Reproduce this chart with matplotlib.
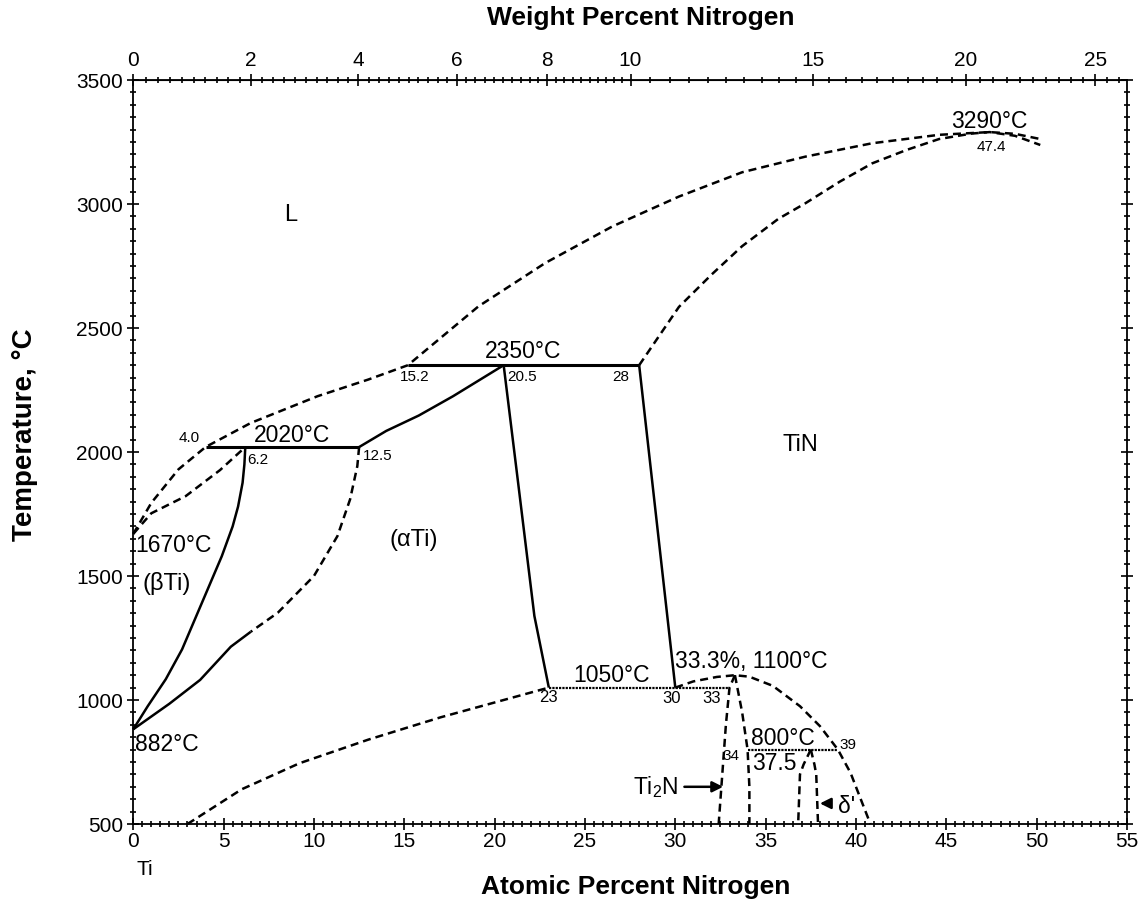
import numpy as np
import matplotlib.pyplot as plt
from matplotlib.ticker import MultipleLocator, FixedLocator

plt.rcParams['font.family'] = ['Liberation Sans', 'DejaVu Sans']
plt.rcParams['mathtext.fontset'] = 'custom'
plt.rcParams['mathtext.rm'] = 'Liberation Sans'
plt.rcParams['mathtext.it'] = 'Liberation Sans:italic'

# molar masses for the wt% <-> at% conversion of the top axis
M_N, M_TI = 14.007, 47.867

# liquidus: Ti melting point -> 4.0/2020 -> 15.2/2350 -> congruent max 47.4/3290
liq_x = [0, 1.0, 2.5, 4.0, 6.5, 10.2, 13.0, 15.2, 19.1, 22.8, 26.5, 30.2, 33.7,
         37.2, 40.9, 44.6, 47.4, 48.8, 50.2]
liq_T = [1670, 1795, 1930, 2020, 2117, 2225, 2292, 2350, 2587, 2762, 2909, 3030, 3128,
         3191, 3245, 3279, 3290, 3283, 3262]

# TiN solidus
tin_sol_x = [28, 30.2, 32.0, 33.7, 35.7, 37.2, 39.1, 40.9, 42.8, 44.6, 46.4, 47.4, 48.8, 50.2]
tin_sol_T = [2350, 2585, 2715, 2830, 2940, 3003, 3090, 3164, 3218, 3262, 3284, 3290, 3275, 3238]

# (bTi) solidus
bsol_x = [0, 1.0, 2.9, 4.8, 6.2]
bsol_T = [1670, 1753, 1822, 1927, 2020]

# (bTi) / (aTi)+(bTi) boundary
bta_x = [6.2, 6.15, 6.05, 5.8, 5.5, 4.9, 3.8, 2.7, 1.8, 0.8, 0]
bta_T = [2020, 1950, 1876, 1780, 1700, 1580, 1392, 1204, 1084, 975, 882]

# (aTi) / (aTi)+(bTi) boundary, dashed upper part and solid lower part
atb_dash_x = [12.5, 12.4, 12.0, 11.3, 10.0, 8.0, 6.5]
atb_dash_T = [2020, 1943, 1809, 1661, 1500, 1352, 1275]
atb_solid_x = [6.5, 5.4, 3.7, 2.0, 0]
atb_solid_T = [1275, 1215, 1081, 985, 882]

# peritectic liquidus of (aTi) between 12.5 and 20.5
aper_x = [12.5, 14.0, 15.8, 17.7, 20.5]
aper_T = [2020, 2085, 2147, 2225, 2350]

# (aTi) solvus, high temperature (solid) and low temperature (dashed)
asolv_x = [20.5, 21.3, 22.2, 23.0]
asolv_T = [2350, 1876, 1339, 1050]
alow_x = [3.0, 6.0, 9.2, 13.0, 17.0, 20.5, 23.0]
alow_T = [500, 640, 745, 840, 930, 1000, 1050]

# TiN low-nitrogen boundary
tin_x = [28, 29.0, 30]
tin_T = [2350, 1700, 1050]

# Ti2N / delta' region
dome_x = [30, 31, 32.3, 33.3, 34.1, 35.4, 36.9, 38.0, 39.0, 39.7, 40.2, 40.8]
dome_T = [1050, 1075, 1093, 1100, 1094, 1057, 975, 895, 800, 706, 612, 500]
ti2n_left_x = [33.3, 33.0, 32.8, 32.6, 32.4]
ti2n_left_T = [1100, 1050, 900, 700, 500]
ti2n_right_x = [33.3, 33.7, 34.0, 34.1, 34.1]
ti2n_right_T = [1100, 950, 800, 650, 500]
dl_left_x = [37.5, 37.1, 36.9, 36.8]
dl_left_T = [800, 740, 700, 500]
dl_right_x = [37.5, 37.7, 37.8, 37.9]
dl_right_T = [800, 740, 700, 500]

# invariant horizontals: (x_start, x_end, temperature)
iso_solid = [(4.0, 12.5, 2020), (15.2, 28.0, 2350)]
iso_dotted = [(23.0, 33.0, 1050), (34.0, 39.0, 800)]

wt_ticks = [0, 2, 4, 6, 8, 10, 15, 20, 25]


def at_to_wt(a):
    a = np.asarray(a, dtype=float)
    return 100 * a * M_N / (a * M_N + (100 - a) * M_TI)


def wt_to_at(w):
    w = np.asarray(w, dtype=float)
    return 100 * (w / M_N) / (w / M_N + (100 - w) / M_TI)


fig = plt.figure(figsize=(11.43, 9.05), dpi=100)
ax = fig.add_axes([0.1166, 0.0895, 0.8694, 0.8221])
ax.set_xlim(0, 55)
ax.set_ylim(500, 3500)

DASH = (0, (3.2, 2.0))
LW = 1.8


def solid(x, T, lw=LW):
    ax.plot(x, T, color='k', lw=lw, solid_capstyle='butt', clip_on=False)


def dashed(x, T, lw=LW):
    ax.plot(x, T, color='k', lw=lw, ls=DASH, clip_on=False)


dashed(liq_x, liq_T)
dashed(tin_sol_x, tin_sol_T)
dashed(bsol_x, bsol_T)
solid(bta_x, bta_T)
dashed(atb_dash_x, atb_dash_T)
solid(atb_solid_x, atb_solid_T)
solid(aper_x, aper_T)
solid(asolv_x, asolv_T)
dashed(alow_x, alow_T)
solid(tin_x, tin_T)
dashed(dome_x, dome_T)
dashed(ti2n_left_x, ti2n_left_T)
dashed(ti2n_right_x, ti2n_right_T)
dashed(dl_left_x, dl_left_T)
dashed(dl_right_x, dl_right_T)

for x0, x1, t in iso_solid:
    ax.plot([x0, x1], [t, t], color='k', lw=2.2, solid_capstyle='butt')
for x0, x1, t in iso_dotted:
    ax.plot([x0, x1], [t, t], color='k', lw=1.6, ls=(0, (1, 0.5)))

# arrows pointing at Ti2N and delta'
arrow = dict(arrowstyle='-|>', color='k', lw=1.8, mutation_scale=16)
ax.annotate('', xy=(32.8, 650), xytext=(30.35, 650), arrowprops=arrow)
ax.annotate('', xy=(37.85, 583), xytext=(38.75, 583), arrowprops=arrow)

big = 16.5
small = 11
ax.text(8.7, 2956, 'L', fontsize=17, ha='center', va='center')
ax.text(36.9, 2028, 'TiN', fontsize=17, ha='center', va='center')
ax.text(15.5, 1645, '(αTi)', fontsize=17, ha='center', va='center')
ax.text(0.5, 1471, '(βTi)', fontsize=17, ha='left', va='center')
ax.text(0.1, 1625, '1670°C', fontsize=big, ha='left', va='center')
ax.text(0.1, 819, '882°C', fontsize=big, ha='left', va='center')
ax.text(8.8, 2065, '2020°C', fontsize=big, ha='center', va='center')
ax.text(3.7, 2055, '4.0', fontsize=small, ha='right', va='center')
ax.text(6.3, 1968, '6.2', fontsize=small, ha='left', va='center')
ax.text(12.7, 1984, '12.5', fontsize=small, ha='left', va='center')
ax.text(21.6, 2404, '2350°C', fontsize=big, ha='center', va='center')
ax.text(15.6, 2304, '15.2', fontsize=small, ha='center', va='center')
ax.text(20.7, 2304, '20.5', fontsize=small, ha='left', va='center')
ax.text(27.0, 2304, '28', fontsize=small, ha='center', va='center')
ax.text(47.4, 3332, '3290°C', fontsize=big, ha='center', va='center')
ax.text(47.5, 3231, '47.4', fontsize=small, ha='center', va='center')
ax.text(26.45, 1097, '1050°C', fontsize=big, ha='center', va='center')
ax.text(23.0, 1010, '23', fontsize=12, ha='center', va='center')
ax.text(29.8, 1007, '30', fontsize=12, ha='center', va='center')
ax.text(32.0, 1007, '33', fontsize=12, ha='center', va='center')
ax.text(30.0, 1155, '33.3%, 1100°C', fontsize=big, ha='left', va='center')
ax.text(35.95, 846, '800°C', fontsize=big, ha='center', va='center')
ax.text(35.5, 742, '37.5', fontsize=big, ha='center', va='center')
ax.text(33.1, 774, '34', fontsize=small, ha='center', va='center')
ax.text(39.1, 819, '39', fontsize=small, ha='left', va='center')
ax.text(30.2, 650, 'Ti$_2$N', fontsize=big, ha='right', va='center')
ax.text(39.0, 570, "δ'", fontsize=big, ha='left', va='center')
ax.text(0.2, 315, 'Ti', fontsize=15, ha='left', va='center', clip_on=False)

# axes, ticks and labels
ax.xaxis.set_major_locator(MultipleLocator(5))
ax.xaxis.set_minor_locator(MultipleLocator(0.5))
ax.yaxis.set_major_locator(MultipleLocator(500))
ax.yaxis.set_minor_locator(MultipleLocator(50))
ax.tick_params(which='both', direction='inout', right=True, top=False, labelsize=15,
               width=1.2, colors='k')
ax.tick_params(which='major', length=8)
ax.tick_params(which='minor', length=4)
ax.tick_params(axis='x', pad=2)
for s in ax.spines.values():
    s.set_linewidth(1.3)

secax = ax.secondary_xaxis('top', functions=(at_to_wt, wt_to_at))
secax.xaxis.set_major_locator(FixedLocator(wt_ticks))
minor_wt = np.concatenate([np.arange(0, 10, 0.2), np.arange(10, 26.01, 0.5)])
secax.xaxis.set_minor_locator(FixedLocator(minor_wt))
secax.tick_params(which='both', direction='inout', labelsize=15, width=1.2)
secax.tick_params(which='major', length=8)
secax.tick_params(which='minor', length=4)

ax.set_xlabel('Atomic Percent Nitrogen', fontsize=19, fontweight='bold')
ax.xaxis.set_label_coords(0.506, -0.069)
ax.set_ylabel('Temperature, °C', fontsize=20, fontweight='bold')
ax.yaxis.set_label_coords(-0.096, 0.523)
fig.text(0.561, 0.980, 'Weight Percent Nitrogen', fontsize=19, fontweight='bold',
         ha='center', va='center')

fig.savefig('out.png', dpi=100)
